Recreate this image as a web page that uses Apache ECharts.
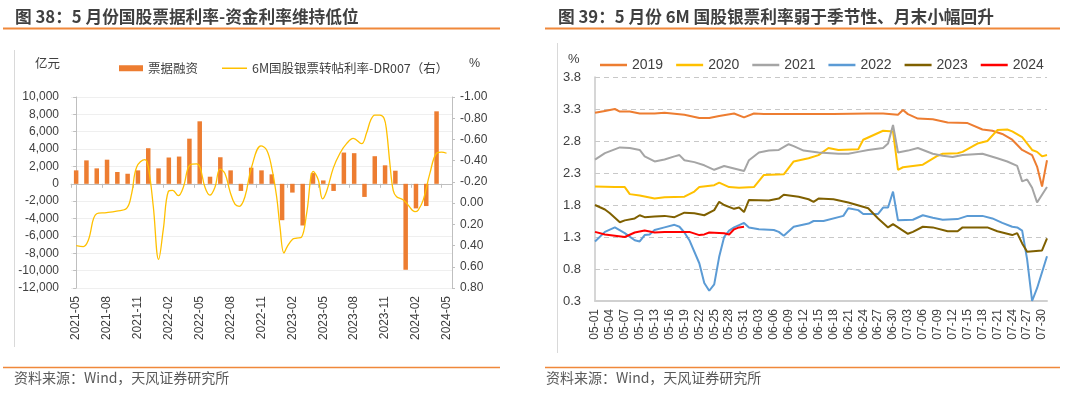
<!DOCTYPE html>
<html>
<head>
<meta charset="utf-8">
<script src="https://cdn.jsdelivr.net/npm/echarts@6/dist/echarts.min.js"></script>
<style>
html,body{margin:0;padding:0;background:#fff;}
#c{width:1080px;height:396px;}
</style>
</head>
<body>
<div id="c"></div>
<script>
// ---------- Left chart data ----------
const months = ['2021-05','2021-06','2021-07','2021-08','2021-09','2021-10','2021-11','2021-12',
  '2022-01','2022-02','2022-03','2022-04','2022-05','2022-06','2022-07','2022-08','2022-09','2022-10','2022-11','2022-12',
  '2023-01','2023-02','2023-03','2023-04','2023-05','2023-06','2023-07','2023-08','2023-09','2023-10','2023-11','2023-12',
  '2024-01','2024-02','2024-03','2024-04','2024-05'];
const billFinancing = [1550,2700,1780,2780,1360,1160,1550,4100,1780,3030,3140,5200,7200,820,3060,1550,-820,1860,1550,1090,
  -4190,-1010,-4800,1240,390,-820,3600,3530,-1510,3180,2130,1510,-9900,-2830,-2560,8350,null];
// line: position in months since 2021-05, and spread value (%)
const spreadMonth = [0,0.7,1.18,1.99,2.96,3.93,4.9,5.39,5.88,6.68,7.01,7.49,8.01,8.46,8.95,9.37,9.92,10.41,11.05,11.7,
  12.02,12.51,12.99,13.48,13.97,14.45,14.94,15.42,15.84,16.39,17.04,17.95,18.5,18.98,19.47,19.79,20.18,20.5,21.02,21.41,
  21.89,22.38,23.03,23.51,23.93,24.32,24.97,25.62,26.26,26.91,27.72,28.2,28.6,29.0,29.5,29.9,30.15,30.47,30.79,31.12,
  31.77,32.25,32.9,33.22,33.71,34.35,35.0,35.49,35.97];
const spreadRate = [0.40,0.41,0.35,0.10,0.09,0.075,0.05,-0.09,-0.34,-0.41,-0.34,0.03,0.53,0.25,-0.11,-0.12,-0.07,-0.15,-0.36,-0.37,
  -0.34,-0.15,-0.075,-0.15,-0.32,-0.28,-0.11,0.01,0.03,-0.06,-0.34,-0.54,-0.50,-0.34,-0.06,0.22,0.47,0.41,0.34,0.33,
  0.32,0.10,-0.30,-0.22,-0.04,-0.11,-0.33,-0.47,-0.56,-0.61,-0.56,-0.66,-0.78,-0.83,-0.83,-0.80,-0.68,-0.37,-0.12,-0.06,
  -0.03,0.02,0.08,0.065,-0.03,-0.28,-0.47,-0.48,-0.47];

// ---------- Right chart data ----------
const days = ['05-01','05-02','05-03','05-04','05-05','05-06','05-07','05-08','05-09','05-10','05-11','05-12','05-13','05-14','05-15','05-16',
  '05-17','05-18','05-19','05-20','05-21','05-22','05-23','05-24','05-25','05-26','05-27','05-28','05-29','05-30','05-31',
  '06-01','06-02','06-03','06-04','06-05','06-06','06-07','06-08','06-09','06-10','06-11','06-12','06-13','06-14','06-15',
  '06-16','06-17','06-18','06-19','06-20','06-21','06-22','06-23','06-24','06-25','06-26','06-27','06-28','06-29','06-30',
  '07-01','07-02','07-03','07-04','07-05','07-06','07-07','07-08','07-09','07-10','07-11','07-12','07-13','07-14','07-15',
  '07-16','07-17','07-18','07-19','07-20','07-21','07-22','07-23','07-24','07-25','07-26','07-27','07-28','07-29','07-30','07-31'];
const y2019 = [['05-01',3.24],['05-03',3.27],['05-05',3.30],['05-06',3.26],['05-08',3.26],['05-10',3.23],['05-13',3.23],['05-15',3.24],
  ['05-19',3.21],['05-22',3.16],['05-24',3.16],['05-26',3.19],['05-29',3.23],['05-31',3.17],['06-02',3.23],['06-04',3.22],['06-06',3.22],
  ['06-11',3.22],['06-15',3.22],['06-18',3.22],['06-25',3.23],['06-28',3.23],['07-01',3.21],['07-02',3.285],['07-03',3.22],['07-05',3.15],
  ['07-08',3.14],['07-11',3.09],['07-15',3.08],['07-18',2.98],['07-20',2.96],['07-22',2.91],['07-24',2.82],['07-26',2.66],['07-28',2.58],
  ['07-29',2.40],['07-30',2.09],['07-31',2.50]];
const y2020 = [['05-01',2.09],['05-05',2.08],['05-07',2.08],['05-08',1.97],['05-10',1.95],['05-13',1.90],['05-15',1.92],['05-19',1.93],
  ['05-21',2.01],['05-22',2.08],['05-25',2.11],['05-26',2.15],['05-28',2.08],['05-30',2.07],['06-02',2.08],['06-04',2.27],['06-08',2.28],
  ['06-10',2.48],['06-13',2.53],['06-15',2.58],['06-17',2.69],['06-19',2.66],['06-23',2.67],['06-24',2.82],['06-28',2.96],['06-30',2.95],
  ['07-01',2.35],['07-02',2.39],['07-06',2.43],['07-09',2.57],['07-10',2.60],['07-13',2.61],['07-14',2.63],['07-17',2.76],['07-19',2.80],
  ['07-21',2.97],['07-23',2.98],['07-24',2.95],['07-26',2.86],['07-28',2.66],['07-29',2.63],['07-30',2.56],['07-31',2.58]];
const y2021 = [['05-01',2.51],['05-03',2.61],['05-06',2.70],['05-08',2.69],['05-10',2.66],['05-11',2.56],['05-13',2.48],['05-15',2.51],
  ['05-17',2.56],['05-18',2.58],['05-19',2.50],['05-21',2.47],['05-23',2.42],['05-25',2.35],['05-27',2.41],['05-29',2.37],['05-31',2.33],
  ['06-01',2.50],['06-03',2.62],['06-05',2.65],['06-07',2.66],['06-09',2.75],['06-10',2.72],['06-12',2.65],['06-15',2.62],['06-19',2.60],
  ['06-21',2.60],['06-23',2.63],['06-25',2.66],['06-28',2.69],['06-29',2.76],['06-30',3.05],['07-01',2.62],['07-03',2.65],['07-05',2.69],
  ['07-08',2.60],['07-10',2.57],['07-12',2.55],['07-14',2.58],['07-18',2.60],['07-21',2.53],['07-23',2.48],['07-25',2.41],['07-26',2.17],
  ['07-27',2.20],['07-28',2.07],['07-29',1.84],['07-31',2.08]];
const y2022 = [['05-01',1.23],['05-03',1.38],['05-05',1.45],['05-07',1.36],['05-09',1.25],['05-10',1.23],['05-11',1.33],['05-12',1.34],
  ['05-13',1.41],['05-15',1.45],['05-17',1.49],['05-18',1.46],['05-19',1.37],['05-20',1.25],['05-22',0.89],['05-23',0.58],['05-24',0.46],
  ['05-25',0.56],['05-26',0.99],['05-27',1.30],['05-28',1.40],['05-29',1.45],['05-31',1.52],['06-01',1.45],['06-03',1.42],['06-06',1.41],
  ['06-07',1.38],['06-08',1.32],['06-10',1.46],['06-13',1.51],['06-14',1.55],['06-16',1.55],['06-20',1.63],['06-21',1.75],['06-23',1.72],
  ['06-24',1.66],['06-27',1.66],['06-28',1.76],['06-29',1.76],['06-30',2.01],['07-01',1.56],['07-04',1.57],['07-06',1.64],['07-08',1.60],
  ['07-10',1.57],['07-13',1.58],['07-15',1.63],['07-18',1.63],['07-20',1.59],['07-22',1.52],['07-24',1.46],['07-25',1.45],['07-26',1.40],
  ['07-27',0.95],['07-28',0.30],['07-29',0.50],['07-31',1.00]];
const y2023 = [['05-01',1.80],['05-03',1.73],['05-04',1.67],['05-06',1.53],['05-07',1.56],['05-09',1.59],['05-10',1.64],['05-11',1.61],
  ['05-13',1.62],['05-15',1.63],['05-17',1.61],['05-19',1.68],['05-21',1.67],['05-23',1.64],['05-25',1.72],['05-26',1.85],['05-27',1.80],
  ['05-29',1.74],['05-30',1.76],['05-31',1.69],['06-01',1.88],['06-05',1.87],['06-07',1.90],['06-08',1.96],['06-11',1.93],['06-13',1.89],
  ['06-14',1.85],['06-15',1.90],['06-18',1.89],['06-21',1.84],['06-25',1.75],['06-27',1.59],['06-29',1.45],['06-30',1.50],['07-03',1.35],
  ['07-04',1.38],['07-06',1.46],['07-08',1.45],['07-11',1.39],['07-13',1.39],['07-14',1.45],['07-19',1.45],['07-21',1.39],['07-24',1.33],
  ['07-25',1.36],['07-26',1.20],['07-27',1.07],['07-30',1.09],['07-31',1.28]];
const y2024 = [['05-01',1.38],['05-03',1.34],['05-07',1.30],['05-09',1.37],['05-11',1.40],['05-13',1.37],['05-15',1.38],['05-17',1.38],
  ['05-20',1.38],['05-22',1.33],['05-23',1.34],['05-24',1.37],['05-27',1.36],['05-28',1.34],['05-29',1.42],['05-30',1.45],['05-31',1.46]];
const yearNames = ['2019','2020','2021','2022','2023','2024'];
const yearData = [y2019,y2020,y2021,y2022,y2023,y2024];
const yearColors = ['#ED7D31','#FFC000','#A5A5A5','#5B9BD5','#7F6000','#FF0000'];

const barName = '票据融资';
const lineName = '6M国股银票转帖利率-DR007（右）';

const LAT = 'Liberation Sans, Arial, Noto Sans CJK SC, sans-serif';
const CJK = 'Noto Sans CJK SC, Liberation Sans, sans-serif';
const TXT = '#404040';
const AX = '#BFBFBF';

const chart = echarts.init(document.getElementById('c'), null, {renderer:'canvas'});

const lineSeries = spreadMonth.map((m,i)=>[m, spreadRate[i]]);

const option = {
  animation:false,
  backgroundColor:'#fff',
  grid:[
    {left:71, top:97, width:381, height:191},
    {left:595, top:77, width:452, height:224}
  ],
  xAxis:[
    {gridIndex:0, type:'category', data:months, position:'bottom',
     axisLine:{show:false}, axisTick:{show:false},
     axisLabel:{interval:2, rotate:90, fontSize:12, color:TXT, margin:8, fontFamily:LAT},
     splitLine:{show:false}},
    {gridIndex:0, type:'category', data:months, position:'top',
     axisLine:{show:true, onZero:true, onZeroAxisIndex:0, lineStyle:{color:AX, width:1}},
     axisTick:{show:true, interval:2, inside:true, length:4, lineStyle:{color:AX}},
     axisLabel:{show:false}, splitLine:{show:false}},
    {gridIndex:0, type:'value', min:-0.5, max:36.5, show:false},
    {gridIndex:1, type:'category', data:days, boundaryGap:false,
     axisLine:{show:true, lineStyle:{color:'#D0D0D0', width:2}}, axisTick:{show:false},
     axisLabel:{interval:2, rotate:90, fontSize:12, color:TXT, margin:8, fontFamily:LAT},
     splitLine:{show:false}}
  ],
  yAxis:[
    {gridIndex:0, type:'value', min:-12000, max:10000, interval:2000, position:'left',
     axisLine:{show:true, lineStyle:{color:AX}}, axisTick:{show:true, length:3, lineStyle:{color:AX}},
     axisLabel:{fontSize:12, color:TXT, margin:12, fontFamily:LAT,
       formatter:v=>Math.round(v).toLocaleString('en-US')},
     splitLine:{show:true, lineStyle:{color:'#EFEFEF', width:1}}},
    {gridIndex:0, type:'value', min:-1, max:0.8, interval:0.2, inverse:true, position:'right',
     axisLine:{show:true, lineStyle:{color:AX}}, axisTick:{show:true, length:3, lineStyle:{color:AX}},
     axisLabel:{fontSize:12, color:TXT, margin:8, fontFamily:LAT,
       formatter:v=>(Math.abs(v)<1e-9?0:v).toFixed(2)},
     splitLine:{show:false}},
    {gridIndex:1, type:'value', min:0.3, max:3.8, interval:0.5,
     axisLine:{show:true, lineStyle:{color:'#C8C8C8', width:1.5}}, axisTick:{show:false},
     axisLabel:{fontSize:13, color:TXT, margin:14, fontFamily:LAT, formatter:v=>v.toFixed(1)},
     splitLine:{show:true, lineStyle:{color:'#C8C8C8', type:[5,4], width:1}}}
  ],
  legend:[
    {left:114, top:57, itemWidth:24, itemHeight:6, itemGap:25,
     textStyle:{fontSize:12.5, color:TXT, fontFamily:CJK},
     data:[{name:barName, icon:'rect'}]},
    {left:217, top:57, itemWidth:25, itemHeight:1.5, itemGap:25,
     textStyle:{fontSize:12.5, color:TXT, fontFamily:CJK},
     data:[{name:lineName, icon:'rect'}]},
    {left:595, top:53, itemWidth:27, itemHeight:2.5, itemGap:13, icon:'rect',
     textStyle:{fontSize:14, color:TXT, fontFamily:LAT},
     data:yearNames}
  ],
  series:[
    {name:barName, type:'bar', xAxisIndex:0, yAxisIndex:0, data:billFinancing, barWidth:4.5,
     itemStyle:{color:'#ED7D31'}},
    {name:lineName, type:'line', xAxisIndex:2, yAxisIndex:1, data:lineSeries, smooth:0.4,
     symbol:'none', lineStyle:{color:'#FFC000', width:1.3}, itemStyle:{color:'#FFC000'}}
  ].concat(yearNames.map((n,i)=>({
     name:n, type:'line', xAxisIndex:3, yAxisIndex:2, data:yearData[i], symbol:'none',
     lineStyle:{color:yearColors[i], width:2}, itemStyle:{color:yearColors[i]}
  }))),
  graphic:[
    {type:'text', left:15, top:8, style:{text:'图 38：5 月份国股票据利率-资金利率维持低位', font:'bold 16.7px '+CJK, fill:TXT}},
    {type:'text', left:558, top:8, style:{text:'图 39：5 月份 6M 国股银票利率弱于季节性、月末小幅回升', font:'bold 16.7px '+CJK, fill:TXT}},
    {type:'line', shape:{x1:3,y1:28.5,x2:500,y2:28.5}, style:{stroke:'#F0883A', lineWidth:2}},
    {type:'line', shape:{x1:545,y1:28.5,x2:1060,y2:28.5}, style:{stroke:'#F0883A', lineWidth:2}},
    {type:'line', shape:{x1:3,y1:367.5,x2:500,y2:367.5}, style:{stroke:'#F0883A', lineWidth:1.5}},
    {type:'line', shape:{x1:545,y1:367.5,x2:1060,y2:367.5}, style:{stroke:'#F0883A', lineWidth:1.5}},
    {type:'line', shape:{x1:14.5,y1:50,x2:14.5,y2:347}, style:{stroke:'#D9D9D9', lineWidth:1}},
    {type:'line', shape:{x1:557.5,y1:43,x2:557.5,y2:353}, style:{stroke:'#D9D9D9', lineWidth:1}},
    {type:'text', left:14, top:371, style:{text:'资料来源：Wind，天风证券研究所', font:'14px '+CJK, fill:'#595959'}},
    {type:'text', left:546, top:371, style:{text:'资料来源：Wind，天风证券研究所', font:'14px '+CJK, fill:'#595959'}},
    {type:'text', left:35, top:57, style:{text:'亿元', font:'12.5px '+CJK, fill:TXT}},
    {type:'text', left:469, top:57, style:{text:'%', font:'12.5px '+LAT, fill:TXT}},
    {type:'text', left:568, top:53, style:{text:'%', font:'13px '+LAT, fill:TXT}}
  ]
};
chart.setOption(option);
</script>
</body>
</html>
